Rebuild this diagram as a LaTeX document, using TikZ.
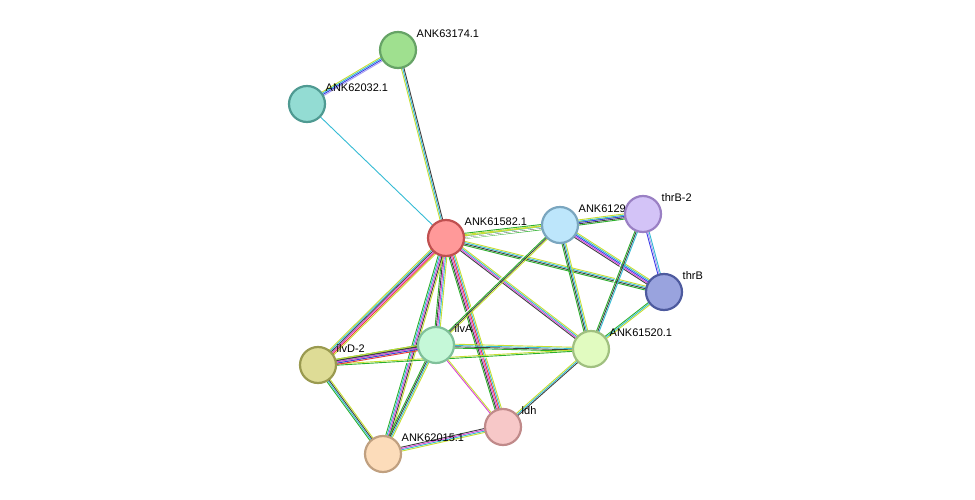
\documentclass[tikz,border=0pt]{standalone}
\usepackage{fontspec}
\setmainfont{Liberation Sans}
\usetikzlibrary{positioning}
\usetikzlibrary{calc}
\definecolor{tm}{HTML}{C7DE32}
\definecolor{db}{HTML}{34BBD4}
\definecolor{ex}{HTML}{D843D8}
\definecolor{nb}{HTML}{2CB02C}
\definecolor{co}{HTML}{3A3AE8}
\definecolor{fu}{HTML}{E83A3A}
\definecolor{ce}{HTML}{404040}
\definecolor{hm}{HTML}{A9A0F0}
\newcommand\lnk[3]{\foreach \c [count=\i] in {#3}{%
  \pgfmathsetmacro\o{(\i-3)*1.3}
  \draw[\c,line width=0.9pt] ($(#1)!\o pt!90:(#2)$) -- ($(#2)!\o pt!-90:(#1)$);}}
\begin{document}
\begin{tikzpicture}[x=1pt,y=-1pt,
                protnode/.style={circle, minimum size=36pt, inner sep=0pt, line width=2.2pt},
                lbl/.style={font=\fontsize{11}{13}\selectfont, inner sep=1pt},
                ]
                \useasboundingbox (0,0) rectangle (975,500);
                \coordinate (c63174) at (398,50);
                \coordinate (c62032) at (307,104);
                \coordinate (c61582) at (446,238);
                \coordinate (c6129) at (560,225);
                \coordinate (cthrB2) at (643,214);
                \coordinate (cthrB) at (664,292);
                \coordinate (cilvA) at (436,345);
                \coordinate (c61520) at (591,349);
                \coordinate (cilvD2) at (318,365);
                \coordinate (cldh) at (503,427);
                \coordinate (c62015) at (383,454);

                \lnk{c63174}{c62032}{tm,db,co,hm}
                \lnk{c62032}{c61582}{white,white,db}
                \lnk{c63174}{c61582}{white,tm,db,ce}
                \lnk{c61582}{c6129}{nb,ce,db,tm,nb}
                \lnk{c61582}{cthrB2}{white,white,tm}
                \lnk{c61582}{cthrB}{nb,ce,db,tm}
                \lnk{c61582}{c61520}{white,ce,ex,db,tm}
                \lnk{c61582}{cilvA}{nb,ce,ex,db,tm}
                \lnk{c61582}{cilvD2}{tm,db,ce,ex,fu,tm}
                \lnk{c61582}{cldh}{nb,ce,ex,fu,db,tm}
                \lnk{c61582}{c62015}{nb,db,ex,ce,tm}
                \lnk{c6129}{cthrB2}{nb,ce,co,db,tm}
                \lnk{c6129}{cthrB}{ce,ex,co,db,tm}
                \lnk{c6129}{c61520}{nb,ce,db,tm}
                \lnk{c6129}{cilvA}{white,nb,ce,tm}
                \lnk{cthrB2}{cthrB}{white,co,hm,db}
                \lnk{cthrB2}{c61520}{white,nb,ce,db}
                \lnk{cthrB}{c61520}{white,nb,db,tm}
                \lnk{cilvA}{c61520}{nb,ce,db,tm}
                \lnk{cilvA}{cilvD2}{nb,ce,db,tm}
                \lnk{cilvD2}{c61520}{white,nb,tm}
                \lnk{cilvD2}{c62015}{nb,db,ce,tm}
                \lnk{cilvA}{c62015}{nb,ce,db,tm}
                \lnk{cilvA}{cldh}{white,ex,tm}
                \lnk{cldh}{c62015}{ce,ex,db,tm}
                \lnk{cldh}{c61520}{white,ce,db,tm}
                \lnk{cilvD2}{cilvA}{fu,co,ex,ce,tm}

                \node[protnode, draw=green!40!black!60, fill=green!40!white!90!black!0, fill={rgb,255:red,159;green,224;blue,143}] (n63174) at (c63174) {};
                \node[protnode, draw={rgb,255:red,79;green,154;blue,146}, fill={rgb,255:red,147;green,220;blue,211}] (n62032) at (c62032) {};
                \node[protnode, draw={rgb,255:red,192;green,80;blue,80}, fill={rgb,255:red,255;green,153;blue,153}] (n61582) at (c61582) {};
                \node[protnode, draw={rgb,255:red,122;green,166;blue,191}, fill={rgb,255:red,189;green,230;blue,251}] (n6129) at (c6129) {};
                \node[lbl, anchor=south west] at ($(n6129.north east)+(4,2)$) {ANK61291.1};
                \node[protnode, draw={rgb,255:red,154;green,128;blue,196}, fill={rgb,255:red,211;green,195;blue,247}] (nthrB2) at (cthrB2) {};
                \node[protnode, draw={rgb,255:red,77;green,90;blue,158}, fill={rgb,255:red,153;green,163;blue,222}] (nthrB) at (cthrB) {};
                \node[protnode, draw={rgb,255:red,128;green,192;blue,154}, fill={rgb,255:red,197;green,248;blue,216}] (nilvA) at (cilvA) {};
                \node[protnode, draw={rgb,255:red,160;green,192;blue,128}, fill={rgb,255:red,225;green,251;blue,192}] (n61520) at (c61520) {};
                \node[protnode, draw={rgb,255:red,154;green,154;blue,80}, fill={rgb,255:red,222;green,220;blue,150}] (nilvD2) at (cilvD2) {};
                \node[protnode, draw={rgb,255:red,192;green,138;blue,138}, fill={rgb,255:red,247;green,200;blue,200}] (nldh) at (cldh) {};
                \node[protnode, draw={rgb,255:red,192;green,160;blue,128}, fill={rgb,255:red,252;green,220;blue,186}] (n62015) at (c62015) {};

                \node[lbl, anchor=south west] at ($(n63174.north east)+(4,2)$) {ANK63174.1};
                \node[lbl, anchor=south west] at ($(n62032.north east)+(4,2)$) {ANK62032.1};
                \node[lbl, anchor=south west] at ($(n61582.north east)+(4,2)$) {ANK61582.1};
                \node[lbl, anchor=south west] at ($(nthrB2.north east)+(4,2)$) {thrB-2};
                \node[lbl, anchor=south west] at ($(nthrB.north east)+(4,2)$) {thrB};
                \node[lbl, anchor=south west] at ($(nilvA.north east)+(4,2)$) {ilvA};
                \node[lbl, anchor=south west] at ($(n61520.north east)+(4,2)$) {ANK61520.1};
                \node[lbl, anchor=south west] at ($(nilvD2.north east)+(4,2)$) {ilvD-2};
                \node[lbl, anchor=south west] at ($(nldh.north east)+(4,2)$) {ldh};
                \node[lbl, anchor=south west] at ($(n62015.north east)+(4,2)$) {ANK62015.1};
\end{tikzpicture}
\end{document}
